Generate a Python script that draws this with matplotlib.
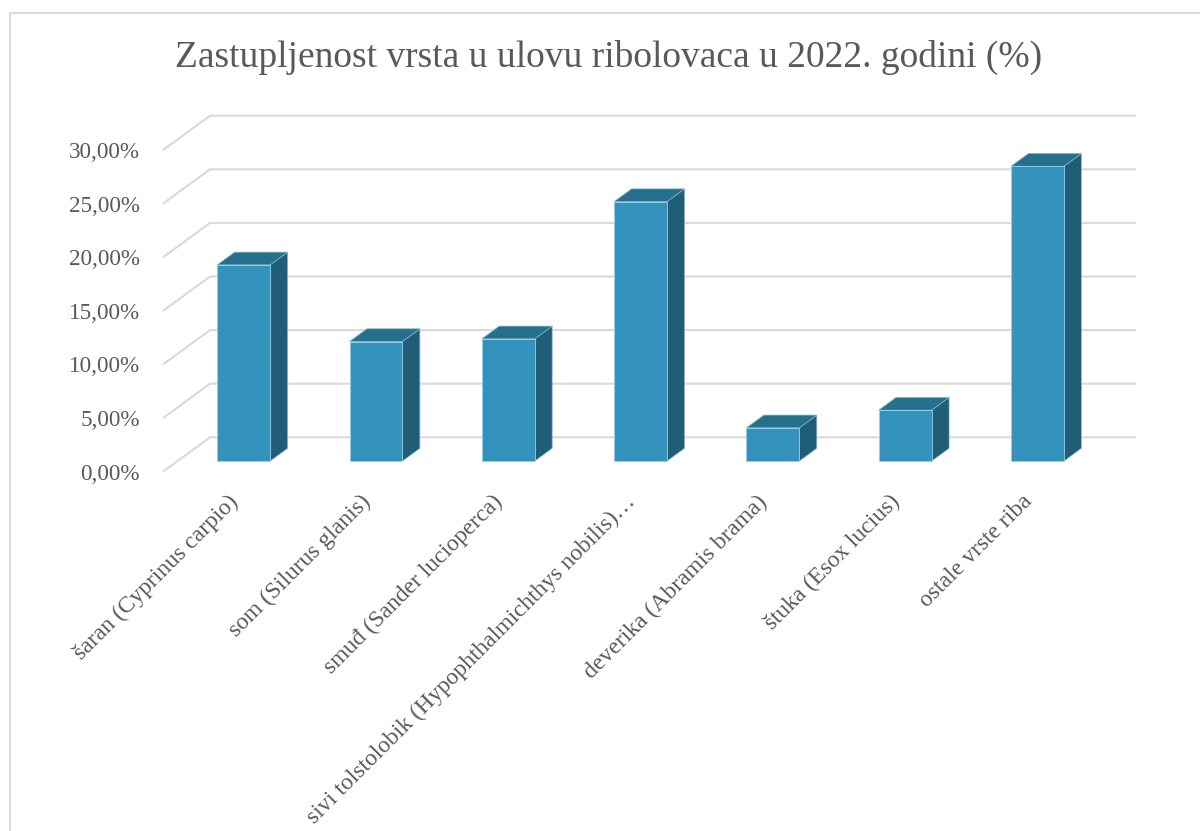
import numpy as np
import matplotlib
matplotlib.use("Agg")
import matplotlib.pyplot as plt
from matplotlib.patches import Polygon
from matplotlib.lines import Line2D

plt.rcParams['font.family'] = ['Liberation Serif', 'DejaVu Serif']

### data (percent)
categories = ['šaran (Cyprinus carpio)', 'som (Silurus glanis)', 'smuđ (Sander lucioperca)',
              'sivi tolstolobik (Hypophthalmichthys nobilis)…', 'deverika (Abramis brama)',
              'štuka (Esox lucius)', 'ostale vrste riba']
shares = [18.3, 11.15, 11.4, 24.2, 3.1, 4.75, 27.5]
yticks = [0, 5, 10, 15, 20, 25, 30]
ytick_labels = ['0,00%', '5,00%', '10,00%', '15,00%', '20,00%', '25,00%', '30,00%']
title = 'Zastupljenost vrsta u ulovu ribolovaca u 2022. godini (%)'

grey = '#595959'
grid_c = '#D9D9D9'
front_c = '#3393BC'
top_c = '#26708D'
side_c = '#205E78'

W, H = 1200, 831
fig = plt.figure(figsize=(W / 100, H / 100), dpi=100)

### oblique "3D" projection: depth vector in data units
px_cat = 132.3    # px per category
px_pct = 10.72    # px per percent
DX = 47 / px_cat
DY = 34.4 / px_pct
n = len(categories)
xmax = n + DX
ymax = 30 + DY

left_px, bottom_px = 163, 471.7
ax = fig.add_axes([left_px / W, (H - bottom_px) / H, xmax * px_cat / W, ymax * px_pct / H])
ax.set_xlim(0, xmax)
ax.set_ylim(0, ymax)
for s in ax.spines.values():
    s.set_visible(False)
ax.set_facecolor('none')

# gridlines: diagonal on the left wall, then horizontal along the back
for v in yticks:
    ax.plot([0, DX, n + DX], [v, v + DY, v + DY], color=grid_c, lw=1.5,
            solid_capstyle='butt', clip_on=False, zorder=1)

ax.set_yticks(yticks)
ax.set_yticklabels(ytick_labels, fontsize=16.7, color=grey)
ax.tick_params(axis='y', length=0, pad=16.5)

# bars
z0, z1 = 0.31, 0.68
bw0, bw1 = 0.30, 0.70
for i, v in enumerate(shares):
    xl = i + bw0 + z0 * DX
    xr = i + bw1 + z0 * DX
    yb = z0 * DY
    yt = v + z0 * DY
    ddx = (z1 - z0) * DX
    ddy = (z1 - z0) * DY
    side = Polygon([[xr, yb], [xr + ddx, yb + ddy], [xr + ddx, yt + ddy], [xr, yt]],
                   closed=True, facecolor=side_c, edgecolor='#7fb6cf', lw=0.5, zorder=3, clip_on=False)
    top = Polygon([[xl, yt], [xr, yt], [xr + ddx, yt + ddy], [xl + ddx, yt + ddy]],
                  closed=True, facecolor=top_c, edgecolor='#7fb6cf', lw=0.5, zorder=3, clip_on=False)
    front = Polygon([[xl, yb], [xr, yb], [xr, yt], [xl, yt]],
                    closed=True, facecolor=front_c, edgecolor='#9fcbe0', lw=0.6, zorder=4, clip_on=False)
    ax.add_patch(side)
    ax.add_patch(top)
    ax.add_patch(front)

# category labels, rotated
ax.set_xticks(np.arange(n) + 0.49)
ax.set_xticklabels(categories, rotation=45, ha='right', va='top', rotation_mode='anchor',
                   fontsize=17, color=grey)
ax.tick_params(axis='x', length=0, pad=14)

# title
fig.text(609 / W, 1 - 67 / H, title, ha='center', va='baseline', fontsize=27, color=grey)

# chart frame (cut off at right and bottom)
fig.add_artist(Line2D([9.5 / W, 9.5 / W, 1.0], [0.0, 1 - 12.5 / H, 1 - 12.5 / H],
                      transform=fig.transFigure, color=grid_c, lw=1.5))

fig.savefig('out.png', dpi=100, facecolor='white')
